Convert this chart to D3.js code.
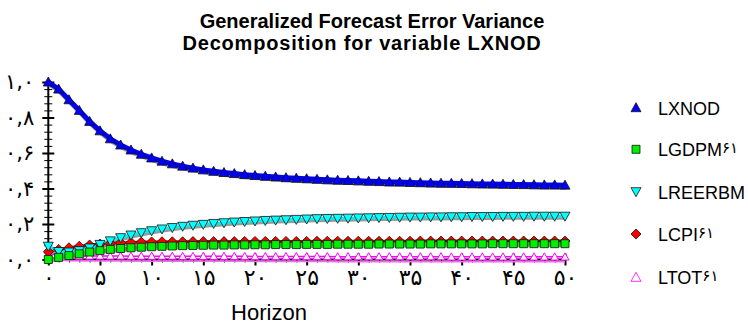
<!DOCTYPE html>
<html>
<head>
<meta charset="utf-8">
<script src="https://cdn.jsdelivr.net/npm/d3@7"></script>
<style>
  body { margin: 0; background: #fff; }
  svg { display: block; font-family: "Liberation Sans", Arial, sans-serif; }
</style>
</head>
<body>
<svg id="chart" width="748" height="325"></svg>
<script>
const horizons = d3.range(0, 51);
const xTicks = d3.range(0, 51, 5);
const yTicks = [0, 0.2, 0.4, 0.6, 0.8, 1.0];

const seriesNames = ['LXNOD', 'LGDPM۶۱', 'LREERBM', 'LCPI۶۱', 'LTOT۶۱'];

const lxnod = [1.000, 0.960, 0.900, 0.840, 0.778, 0.725, 0.680, 0.645, 0.617, 0.593,
  0.572, 0.554, 0.539, 0.526, 0.515, 0.505, 0.497, 0.490, 0.484, 0.478,
  0.473, 0.469, 0.465, 0.461, 0.458, 0.455, 0.452, 0.449, 0.447, 0.445,
  0.443, 0.441, 0.439, 0.437, 0.436, 0.434, 0.433, 0.431, 0.430, 0.429,
  0.428, 0.427, 0.426, 0.425, 0.424, 0.423, 0.422, 0.421, 0.420, 0.420, 0.419];
const lgdpm = [0.000, 0.012, 0.022, 0.032, 0.042, 0.050, 0.057, 0.062, 0.066, 0.069,
  0.072, 0.074, 0.076, 0.078, 0.079, 0.080, 0.081, 0.081, 0.082, 0.082,
  0.083, 0.083, 0.084, 0.084, 0.084, 0.085, 0.085, 0.085, 0.086, 0.086,
  0.086, 0.086, 0.087, 0.087, 0.087, 0.087, 0.087, 0.088, 0.088, 0.088,
  0.088, 0.088, 0.088, 0.089, 0.089, 0.089, 0.089, 0.089, 0.089, 0.089, 0.089];
const lreerbm = [0.075, 0.045, 0.042, 0.050, 0.065, 0.085, 0.105, 0.123, 0.138, 0.151,
  0.162, 0.172, 0.180, 0.187, 0.193, 0.198, 0.203, 0.207, 0.211, 0.214,
  0.217, 0.220, 0.222, 0.224, 0.226, 0.228, 0.230, 0.231, 0.232, 0.233,
  0.234, 0.235, 0.236, 0.237, 0.238, 0.239, 0.239, 0.240, 0.240, 0.241,
  0.241, 0.242, 0.242, 0.242, 0.243, 0.243, 0.243, 0.244, 0.244, 0.244, 0.244];
const lcpi = [0.044, 0.057, 0.066, 0.075, 0.082, 0.087, 0.091, 0.094, 0.096, 0.098,
  0.099, 0.100, 0.100, 0.100, 0.101, 0.101, 0.101, 0.101, 0.101, 0.102,
  0.102, 0.102, 0.102, 0.102, 0.102, 0.102, 0.103, 0.103, 0.103, 0.103,
  0.103, 0.103, 0.103, 0.103, 0.103, 0.103, 0.104, 0.104, 0.104, 0.104,
  0.104, 0.104, 0.104, 0.104, 0.104, 0.104, 0.104, 0.104, 0.104, 0.104, 0.104];
const ltot = [0.032, 0.024, 0.021, 0.020, 0.020, 0.020, 0.020, 0.020, 0.019, 0.019,
  0.019, 0.019, 0.019, 0.018, 0.018, 0.018, 0.018, 0.018, 0.018, 0.018,
  0.017, 0.017, 0.017, 0.017, 0.017, 0.017, 0.017, 0.017, 0.016, 0.016,
  0.016, 0.016, 0.016, 0.016, 0.016, 0.016, 0.016, 0.016, 0.016, 0.015,
  0.015, 0.015, 0.015, 0.015, 0.015, 0.015, 0.015, 0.015, 0.015, 0.015, 0.015];

const series = [
  { name: seriesNames[0], values: lxnod, color: '#0000ff', shape: 'up', lineW: 5, fill: '#0000ff' },
  { name: seriesNames[1], values: lgdpm, color: '#00dd00', shape: 'square', lineW: 3, fill: '#00ee00' },
  { name: seriesNames[2], values: lreerbm, color: '#00eeee', shape: 'down', lineW: 3, fill: '#00ffff' },
  { name: seriesNames[3], values: lcpi, color: '#ff0000', shape: 'diamond', lineW: 3, fill: '#ff0000' },
  { name: seriesNames[4], values: ltot, color: '#ff00ff', shape: 'open', lineW: 1.5, fill: '#ffffff' }
];

const toFa = s => String(s).replace(/\d/g, d => '۰۱۲۳۴۵۶۷۸۹'[d]);

const svg = d3.select('#chart');
const x = d3.scaleLinear().domain([0, 50]).range([48.3, 565]);
const y = d3.scaleLinear().domain([0, 1]).range([259.5, 82]);

function shapePath(shape, s) {
  const h = s / 2;
  if (shape === 'up' || shape === 'open') return `M0,${-h}L${h},${h * 0.8}L${-h},${h * 0.8}Z`;
  if (shape === 'down') return `M0,${h}L${h},${-h * 0.8}L${-h},${-h * 0.8}Z`;
  if (shape === 'square') return `M${-h * 0.8},${-h * 0.8}H${h * 0.8}V${h * 0.8}H${-h * 0.8}Z`;
  return `M0,${-h}L${h},0L0,${h}L${-h},0Z`;
}

// title
svg.append('text').attr('x', 372).attr('y', 28).attr('text-anchor', 'middle')
  .attr('font-size', 20).attr('font-weight', 'bold').text('Generalized Forecast Error Variance');
svg.append('text').attr('x', 362).attr('y', 50).attr('text-anchor', 'middle')
  .attr('font-size', 20).attr('font-weight', 'bold').attr('letter-spacing', 0.8)
  .text('Decomposition for variable LXNOD');

// series lines + shadows
const line = d3.line().x((d, i) => x(horizons[i])).y(d => y(d));
const plot = svg.append('g');
series.forEach(s => {
  plot.append('path').attr('d', line(s.values)).attr('fill', 'none')
    .attr('stroke', s.shape === 'open' ? '#ff66ff' : '#999').attr('stroke-width', s.lineW)
    .attr('transform', s.shape === 'open' ? 'translate(0,5)' : 'translate(1,2)');
});
series.slice().reverse().forEach(s => {
  plot.append('path').attr('d', line(s.values)).attr('fill', 'none')
    .attr('stroke', s.color).attr('stroke-width', s.lineW);
});

// axes
const xAxisG = svg.append('g').attr('transform', `translate(0,${y(0)})`);
xAxisG.call(d3.axisBottom(x).tickValues(horizons).tickSize(3).tickFormat(''));
xAxisG.selectAll('.tick line').attr('y1', -3).attr('stroke-width', 1);
const xMajor = svg.append('g').attr('transform', `translate(0,${y(0)})`)
  .call(d3.axisBottom(x).tickValues(xTicks).tickSize(6).tickPadding(4).tickFormat(toFa));
xMajor.selectAll('.tick line').attr('y1', -6).attr('stroke-width', 2);
xMajor.selectAll('.tick text').attr('font-family', '"DejaVu Sans"').attr('font-size', 22)
  .attr('letter-spacing', 5);
svg.selectAll('.domain').remove();

const yMinor = svg.append('g').attr('transform', `translate(${x(0)},0)`)
  .call(d3.axisLeft(y).tickValues(d3.range(0, 1.001, 0.04)).tickSize(4).tickFormat(''));
yMinor.selectAll('.tick line').attr('x1', 4).attr('stroke-width', 1);
const yMajor = svg.append('g').attr('transform', `translate(${x(0)},0)`)
  .call(d3.axisLeft(y).tickValues(yTicks).tickSize(6).tickPadding(10)
    .tickFormat(d => toFa(d3.format('.1f')(d)).replace('.', ',')));
yMajor.selectAll('.tick line').attr('x1', 6).attr('stroke-width', 2);
yMajor.selectAll('.tick text').attr('font-family', '"DejaVu Sans"').attr('font-size', 21)
  .attr('letter-spacing', 2).attr('direction', 'ltr').attr('dx', 2);
svg.selectAll('.domain').remove();

svg.append('line').attr('x1', x(0)).attr('x2', x(50)).attr('y1', y(0)).attr('y2', y(0))
  .attr('stroke', '#000').attr('stroke-width', 2);
svg.append('line').attr('x1', x(0)).attr('x2', x(0)).attr('y1', y(0)).attr('y2', y(1))
  .attr('stroke', '#000').attr('stroke-width', 2);

// markers
series.slice().reverse().forEach(s => {
  const size = s.shape === 'open' ? 8 : 10;
  plot.append('g').selectAll('path').data(s.values).join('path')
    .attr('transform', (d, i) => `translate(${x(horizons[i])},${y(d)})`)
    .attr('d', shapePath(s.shape, size))
    .attr('fill', s.fill)
    .attr('stroke', s.shape === 'open' ? s.color : '#111')
    .attr('stroke-width', s.shape === 'open' ? 1 : 0.8);
});
plot.raise();

// x label
svg.append('text').attr('x', 269).attr('y', 320).attr('text-anchor', 'middle')
  .attr('font-size', 22).text('Horizon');

// legend
const legendY = [107.7, 149.3, 191.7, 234, 277.3];
const legend = svg.append('g');
series.forEach((s, i) => {
  const g = legend.append('g').attr('transform', `translate(636,${legendY[i]})`);
  g.append('path').attr('d', shapePath(s.shape, 10)).attr('fill', s.fill)
    .attr('stroke', s.shape === 'open' ? s.color : '#111').attr('stroke-width', 0.8);
  const t = g.append('text').attr('x', 22).attr('y', 7).attr('font-size', 18);
  const m = s.name.match(/^([A-Z]+)(.*)$/);
  t.append('tspan').text(m[1]);
  if (m[2]) t.append('tspan').attr('font-family', '"DejaVu Sans"').attr('font-size', 15)
    .attr('dy', -3).text(m[2]);
});
</script>
</body>
</html>
